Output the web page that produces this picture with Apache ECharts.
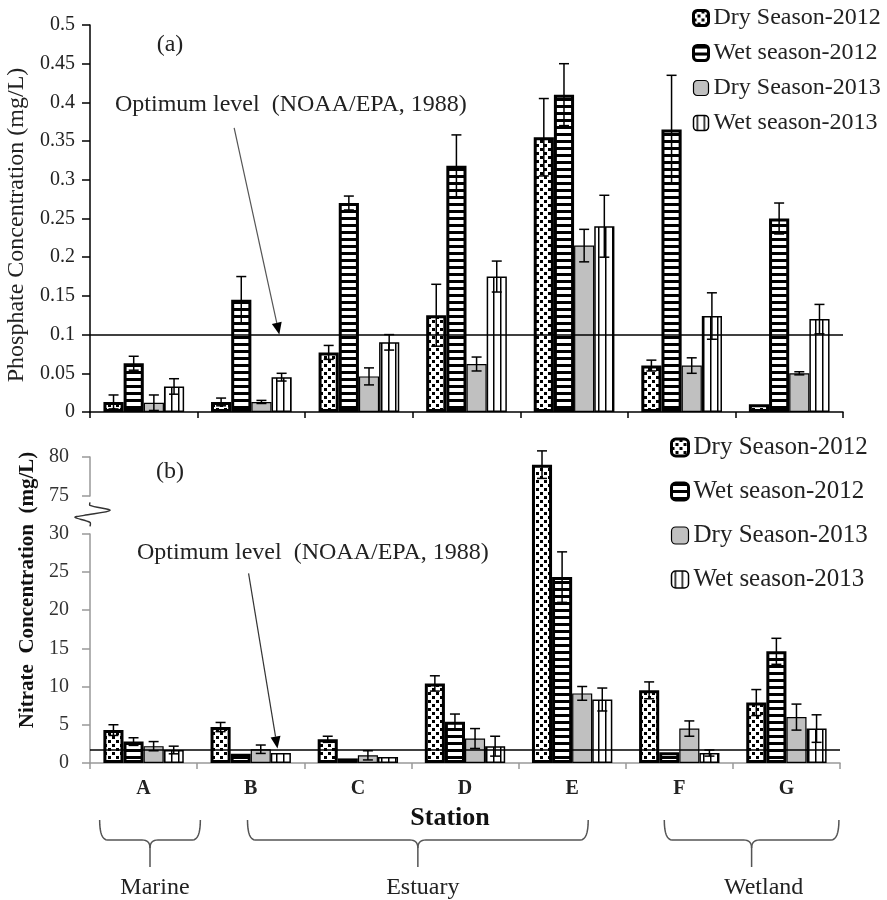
<!DOCTYPE html>
<html>
<head>
<meta charset="utf-8">
<script src="https://cdn.jsdelivr.net/npm/echarts@6.0.0/dist/echarts.min.js"></script>
<style>
  html, body { margin: 0; padding: 0; background: #fff; }
  #main { width: 887px; height: 900px; }
</style>
</head>
<body>
<div id="main"></div>
<script>
// stations and seasons
const stations = ['A', 'B', 'C', 'D', 'E', 'F', 'G'];
const seasons = ['Dry Season-2012', 'Wet season-2012', 'Dry Season-2013', 'Wet season-2013'];

// (a) phosphate, mg/L
const phosDry12 = [0.013, 0.013, 0.077, 0.125, 0.355, 0.06, 0.01];
const phosWet12 = [0.063, 0.145, 0.27, 0.318, 0.41, 0.365, 0.25];
const phosDry13 = [0.012, 0.013, 0.046, 0.062, 0.215, 0.06, 0.05];
const phosWet13 = [0.033, 0.045, 0.09, 0.175, 0.24, 0.124, 0.12];
const phosDry12Err = [0.009, 0.005, 0.009, 0.04, 0.05, 0.007, 0];
const phosWet12Err = [0.009, 0.03, 0.009, 0.04, 0.04, 0.07, 0.02];
const phosDry13Err = [0.01, 0.002, 0.011, 0.009, 0.021, 0.01, 0.002];
const phosWet13Err = [0.01, 0.005, 0.01, 0.02, 0.04, 0.03, 0.019];
const phosLimit = 0.1;

// (b) nitrate, mg/L
const nitDry12 = [4.3, 4.7, 3.1, 10.4, 79, 9.5, 7.9];
const nitWet12 = [2.8, 1.2, 0.6, 5.4, 24.3, 1.4, 14.6];
const nitDry13 = [2.2, 1.8, 1.0, 3.2, 9.1, 4.5, 6.0];
const nitWet13 = [1.7, 1.3, 0.8, 2.2, 8.3, 1.3, 4.5];
const nitDry12Err = [0.7, 0.6, 0.4, 1.0, 1.8, 1.1, 1.7];
const nitWet12Err = [0.5, 0, 0, 1.0, 3.3, 0, 1.7];
const nitDry13Err = [0.6, 0.55, 0.6, 1.3, 0.9, 1.0, 1.7];
const nitWet13Err = [0.5, 0, 0, 1.3, 1.5, 0.4, 1.8];
const nitLimit = 1.7;

// station groups under the axis
const groups = ['Marine', 'Estuary', 'Wetland'];

const serif = '"Liberation Serif", "Times New Roman", serif';

// fill patterns
function makePattern(w, h, draw) {
  const c = document.createElement('canvas');
  c.width = w; c.height = h;
  const ctx = c.getContext('2d');
  ctx.fillStyle = '#fff';
  ctx.fillRect(0, 0, w, h);
  ctx.fillStyle = '#000';
  draw(ctx);
  return { image: c, repeat: 'repeat' };
}
const dotFill = makePattern(8, 8, ctx => {
  ctx.fillRect(0, 0, 3, 3);
  ctx.fillRect(4, 4, 3, 3);
});
const hStripeFill = makePattern(7, 7, ctx => {
  ctx.fillRect(0, 0, 7, 3);
});
const vStripeFill = makePattern(7, 7, ctx => {
  ctx.fillRect(3, 0, 1.5, 7);
});

const seasonStyles = [
  { color: dotFill, borderColor: '#000', borderWidth: 3 },
  { color: hStripeFill, borderColor: '#000', borderWidth: 3 },
  { color: '#c0c0c0', borderColor: '#000', borderWidth: 1.2 },
  { color: vStripeFill, borderColor: '#000', borderWidth: 1.5 }
];
const legendBorders = [3, 3, 1.2, 1.5];

let dom = document.getElementById('main');
let myChart = echarts.init(dom, null, { renderer: 'canvas' });

function errRender(params, api) {
  const cat = api.value(0), s = api.value(1), v = api.value(2), e = api.value(3);
  if (!e) return null;
  const bw = api.size([1, 0])[0];
  const barW = bw * 0.75 / 4;
  const cx = api.coord([cat, v])[0] - bw * 0.375 + barW * (s + 0.5);
  const yTop = api.coord([cat, v + e])[1];
  const yBot = api.coord([cat, v - e])[1];
  const cap = 5;
  const st = { stroke: '#000', lineWidth: 1.5 };
  return {
    type: 'group',
    children: [
      { type: 'line', shape: { x1: cx, y1: yTop, x2: cx, y2: yBot }, style: st },
      { type: 'line', shape: { x1: cx - cap, y1: yTop, x2: cx + cap, y2: yTop }, style: st },
      { type: 'line', shape: { x1: cx - cap, y1: yBot, x2: cx + cap, y2: yBot }, style: st }
    ]
  };
}

function errData(vals, errs) {
  const out = [];
  vals.forEach((arr, s) => {
    arr.forEach((v, i) => out.push([i, s, v, errs[s][i]]));
  });
  return out;
}

const phosVals = [phosDry12, phosWet12, phosDry13, phosWet13];
const phosErrs = [phosDry12Err, phosWet12Err, phosDry13Err, phosWet13Err];
const nitVals = [nitDry12, nitWet12, nitDry13, nitWet13];
const nitErrs = [nitDry12Err, nitWet12Err, nitDry13Err, nitWet13Err];

function barSeries(idx, vals, limit) {
  return seasons.map((name, s) => {
    const ser = {
      name: name,
      type: 'bar',
      xAxisIndex: idx,
      yAxisIndex: idx,
      barGap: '0%',
      barCategoryGap: '25%',
      itemStyle: seasonStyles[s],
      data: vals[s]
    };
    if (s === 0) {
      ser.markLine = {
        silent: true,
        symbol: 'none',
        label: { show: false },
        lineStyle: { color: '#000', width: 1.5, type: 'solid' },
        data: [{ yAxis: limit }]
      };
    }
    return ser;
  });
}

const legendData = seasons.map((n, s) => ({ name: n, itemStyle: { borderWidth: legendBorders[s], borderColor: '#000' } }));

let option = {
  animation: false,
  backgroundColor: '#fff',
  grid: [
    { left: 90, right: 44, top: 25, height: 387, outerBoundsMode: 'none' },
    { left: 90, right: 47, top: 457, height: 306, outerBoundsMode: 'none' }
  ],
  legend: [
    {
      orient: 'vertical', left: 692, top: 6, padding: 0,
      itemWidth: 15, itemHeight: 15, itemGap: 11,
      icon: 'roundRect',
      textStyle: { fontFamily: serif, fontSize: 24, color: '#222', lineHeight: 24 },
      data: legendData
    },
    {
      orient: 'vertical', left: 670, top: 435, padding: 0,
      itemWidth: 17, itemHeight: 17, itemGap: 19,
      icon: 'roundRect',
      textStyle: { fontFamily: serif, fontSize: 25, color: '#222', lineHeight: 25 },
      data: legendData
    }
  ],
  xAxis: [
    {
      gridIndex: 0, type: 'category', data: stations,
      axisLine: { lineStyle: { color: '#000', width: 1.5 } },
      axisTick: { show: true, length: 6, lineStyle: { color: '#000', width: 1.5 } },
      axisLabel: { show: false },
      splitLine: { show: false }
    },
    {
      gridIndex: 1, type: 'category', data: stations,
      axisLine: { lineStyle: { color: '#999', width: 1.5 } },
      axisTick: { show: true, length: 6, lineStyle: { color: '#999', width: 1.5 } },
      axisLabel: { margin: 16, fontFamily: serif, fontSize: 20, fontWeight: 'bold', color: '#222' },
      name: 'Station', nameLocation: 'middle', nameGap: 42,
      nameTextStyle: { fontFamily: serif, fontSize: 26, fontWeight: 'bold', color: '#111', padding: [0, 30, 0, 0] },
      splitLine: { show: false }
    }
  ],
  yAxis: [
    {
      gridIndex: 0, type: 'value', min: 0, max: 0.5, interval: 0.05,
      axisLine: { show: true, lineStyle: { color: '#000', width: 1.5 } },
      axisTick: { show: true, length: 8, lineStyle: { color: '#000', width: 1.5 } },
      axisLabel: { margin: 15, fontFamily: serif, fontSize: 20, color: '#222' },
      splitLine: { show: false },
      name: 'Phosphate Concentration (mg/L)', nameLocation: 'middle', nameGap: 53,
      nameTextStyle: { fontFamily: serif, fontSize: 24, color: '#222', padding: [0, 13, 0, 0] }
    },
    {
      gridIndex: 1, type: 'value', min: 0, max: 80, interval: 5,
      breaks: [{ start: 30, end: 75, gap: 5 }],
      breakArea: { show: false },
      axisLine: { show: true, lineStyle: { color: '#999', width: 1.5 } },
      axisTick: { show: true, length: 8, lineStyle: { color: '#999', width: 1.5 } },
      axisLabel: { margin: 21, fontFamily: serif, fontSize: 20, color: '#333' },
      splitLine: { show: false },
      name: 'Nitrate  Concentration  (mg/L)', nameLocation: 'middle', nameGap: 51,
      nameTextStyle: { fontFamily: serif, fontSize: 21, fontWeight: 'bold', color: '#111', padding: [0, 0, 0, 40] }
    }
  ],
  series: [
    ...barSeries(0, phosVals, phosLimit),
    ...barSeries(1, nitVals, nitLimit),
    {
      type: 'custom', xAxisIndex: 0, yAxisIndex: 0, z: 5,
      renderItem: errRender, encode: { x: 0, y: 2 },
      data: errData(phosVals, phosErrs)
    },
    {
      type: 'custom', xAxisIndex: 1, yAxisIndex: 1, z: 5,
      renderItem: errRender, encode: { x: 0, y: 2 },
      data: errData(nitVals, nitErrs)
    }
  ]
};

myChart.setOption(option);

// annotations placed through the axes
function px(grid, pos, val) {
  const p0 = myChart.convertToPixel({ gridIndex: grid }, [0, val]);
  const p1 = myChart.convertToPixel({ gridIndex: grid }, [1, val]);
  const bw = p1[0] - p0[0];
  return [p0[0] + pos * bw, p0[1]];
}

function arrow(a, b, color) {
  const ang = Math.atan2(b[1] - a[1], b[0] - a[0]);
  const L = 12, W = 5;
  const bx = b[0] - L * Math.cos(ang), by = b[1] - L * Math.sin(ang);
  const nx = -Math.sin(ang) * W, ny = Math.cos(ang) * W;
  return [
    { type: 'line', shape: { x1: a[0], y1: a[1], x2: bx, y2: by }, style: { stroke: color, lineWidth: 1.2 } },
    { type: 'polygon', shape: { points: [[b[0], b[1]], [bx + nx, by + ny], [bx - nx, by - ny]] }, style: { fill: '#000' } }
  ];
}

function quad(p0, p1, p2, n) {
  const pts = [];
  for (let i = 0; i <= n; i++) {
    const t = i / n, u = 1 - t;
    pts.push([u * u * p0[0] + 2 * u * t * p1[0] + t * t * p2[0], u * u * p0[1] + 2 * u * t * p1[1] + t * t * p2[1]]);
  }
  return pts;
}

function brace(x1, x2, y, color) {
  const cx = (x1 + x2) / 2;
  const yh = y + 20, yStem = y + 47, r = 8;
  const left = [].concat(
    quad([x1, y], [x1, yh], [x1 + r, yh], 8),
    quad([cx - r, yh], [cx, yh], [cx, yh + r], 8),
    [[cx, yStem]]
  );
  const right = [].concat(
    quad([cx, yh + r], [cx, yh], [cx + r, yh], 8),
    quad([x2 - r, yh], [x2, yh], [x2, y], 8)
  );
  const st = { stroke: color, lineWidth: 1.5, fill: null };
  return [
    { type: 'polyline', shape: { points: left }, style: st },
    { type: 'polyline', shape: { points: right }, style: st }
  ];
}

const braceSpans = [[-0.41, 0.53], [0.97, 4.15], [4.86, 6.49]];
let g = [];
g.push(...arrow(px(0, 0.84, 0.367), px(0, 1.26, phosLimit), '#555'));
g.push(...arrow(px(1, 0.98, 24.8), px(1, 1.25, nitLimit + 0.2), '#333'));

braceSpans.forEach((sp, i) => {
  const a = px(1, sp[0], 0)[0], b = px(1, sp[1], 0)[0];
  g.push(...brace(a, b, 820, '#555'));
  g.push({
    type: 'text', x: (a + b) / 2 + (i === 2 ? 12 : 5), y: 888,
    style: { text: groups[i], font: `24px ${serif}`, fill: '#222', align: 'center', verticalAlign: 'middle' }
  });
});

// axis break squiggle
const ax = px(1, -0.5, 0)[0];
const y30 = px(1, 0, 30)[1], y75 = px(1, 0, 75)[1];
const ym = (y30 + y75) / 2;
g.push({ type: 'rect', shape: { x: ax - 3, y: ym - 12, width: 6, height: 24 }, style: { fill: '#fff' } });
g.push({
  type: 'polyline',
  shape: { points: [[ax, ym - 12], [ax, ym - 9], [ax + 20, ym - 4], [ax - 6, ym + 1], [ax - 15, ym + 3], [ax, ym + 8], [ax, ym + 12]], smooth: 0.3 },
  style: { stroke: '#333', lineWidth: 1.5, fill: null }
});

g.push({ type: 'text', x: 170, y: 45, style: { text: '(a)', font: `24px ${serif}`, fill: '#222', align: 'center', verticalAlign: 'middle' } });
g.push({ type: 'text', x: 115, y: 105, style: { text: 'Optimum level  (NOAA/EPA, 1988)', font: `24px ${serif}`, fill: '#222', verticalAlign: 'middle' } });
g.push({ type: 'text', x: 170, y: 472, style: { text: '(b)', font: `24px ${serif}`, fill: '#222', align: 'center', verticalAlign: 'middle' } });
g.push({ type: 'text', x: 137, y: 553, style: { text: 'Optimum level  (NOAA/EPA, 1988)', font: `24px ${serif}`, fill: '#222', verticalAlign: 'middle' } });

myChart.setOption({ graphic: g });

window.addEventListener('resize', myChart.resize);
</script>
</body>
</html>
